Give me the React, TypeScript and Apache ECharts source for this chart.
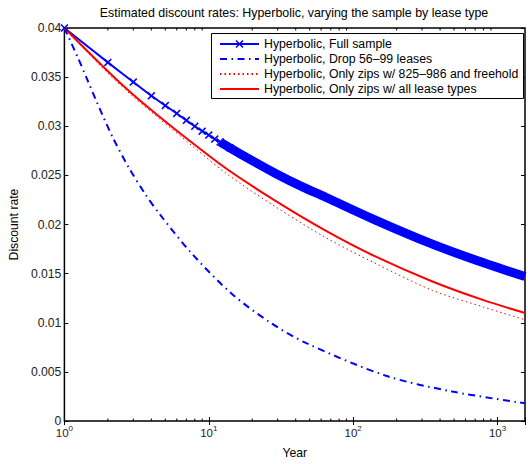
import React, { useEffect, useRef } from "react";
import * as echarts from "echarts";

const titleText = "Estimated discount rates: Hyperbolic, varying the sample by lease type";
const xAxisName = "Year";
const yAxisName = "Discount rate";
const seriesNames = [
  "Hyperbolic, Full sample",
  "Hyperbolic, Drop 56\u201399 leases",
  "Hyperbolic, Only zips w/ 825\u2013986 and freehold",
  "Hyperbolic, Only zips w/ all lease types",
];

// Full sample (markers at each year)
const fullYears = [1, 2, 3, 4, 5, 6, 7, 8, 9, 10, 11, 12, 14, 20, 29, 45, 64, 140, 354, 800, 1550];
const fullRates = [0.04, 0.0365, 0.0345, 0.0331, 0.0321, 0.0313, 0.0306, 0.03, 0.0295, 0.0291, 0.0287, 0.0284, 0.0278, 0.0265, 0.0252, 0.0238, 0.0228, 0.0205, 0.018, 0.0161, 0.0147];
// Drop 56-99 leases
const dropYears = [1, 1.23, 1.445, 1.65, 2.14, 2.79, 3.63, 4.6, 7.57, 14.3, 26.8, 47.8, 169, 485, 1550];
const dropRates = [0.04, 0.0371, 0.0347, 0.0327, 0.029, 0.0258, 0.0231, 0.021, 0.0171, 0.013, 0.01, 0.0079, 0.0046, 0.003, 0.0018];
// Only zips w/ 825-986 and freehold
const freeYears = [1, 2, 3, 4.36, 7.4, 13.2, 29, 64, 140, 354, 800, 1550];
const freeRates = [0.04, 0.0354, 0.033, 0.031, 0.0282, 0.0252, 0.0218, 0.0187, 0.0161, 0.0133, 0.0116, 0.0103];
// Only zips w/ all lease types
const allYears = [1, 2, 3, 4.36, 7.4, 13.2, 29, 64, 140, 354, 800, 1550];
const allRates = [0.04, 0.0356, 0.0332, 0.0312, 0.0285, 0.0257, 0.0224, 0.0194, 0.0168, 0.0142, 0.0123, 0.011];

const markerLastYear = 14;
const bandFirstYear = 12;
const minorTickYears = [2, 3, 4, 5, 6, 7, 8, 9, 20, 30, 40, 50, 60, 70, 80, 90, 200, 300, 400, 500, 600, 700, 800, 900];
const X_MIN = 1;
const X_MAX = 1550;
const Y_MIN = 0;
const Y_MAX = 0.04;
const Y_STEP = 0.005;

const pairs = (xs: number[], ys: number[]) => xs.map((x, i) => [x, ys[i]]);

const FONT = "'Liberation Sans', Arial, Helvetica, sans-serif";
const BLUE = "#0000ff";
const RED = "#ff0000";
const X_MARK =
  "path://M0,1.4L1.4,0L5,3.6L8.6,0L10,1.4L6.4,5L10,8.6L8.6,10L5,6.4L1.4,10L0,8.6L3.6,5Z";

export default function App() {
  const ref = useRef<HTMLDivElement>(null);
  useEffect(() => {
    if (!ref.current) return;
    const chart = echarts.init(ref.current, null, { renderer: "svg" });
    const fullData = pairs(fullYears, fullRates);
    const option: any = {
      animation: false,
      textStyle: { fontFamily: FONT },
      title: {
        text: titleText,
        left: 294,
        top: 7,
        padding: 0,
        textAlign: "center",
        textStyle: { fontSize: 12.4, fontWeight: "normal", color: "#000", fontFamily: FONT },
      },
      grid: {
        left: 62,
        top: 28,
        right: 1,
        bottom: 38,
        show: true,
        borderColor: "#000",
        borderWidth: 1.5,
        backgroundColor: "transparent",
      },
      legend: {
        data: seriesNames.map((n, i) =>
          i === 0 ? { name: n } : { name: n, itemStyle: { opacity: 0 } }
        ),
        orient: "vertical",
        left: 212,
        top: 34,
        padding: [4, 0, 0, 7],
        itemWidth: 39,
        itemHeight: 10,
        itemGap: 3,
        selectedMode: false,
        z: 4,
        textStyle: { fontSize: 12.3, lineHeight: 12, color: "#000", fontFamily: FONT },
      },
      graphic: [
        {
          type: "rect",
          z: 3,
          shape: { x: 211.5, y: 33.5, width: 312, height: 65 },
          style: { fill: "#fff", stroke: "#000", lineWidth: 1 },
        },
      ],
      xAxis: [
        {
          type: "log",
          logBase: 10,
          min: X_MIN,
          max: X_MAX,
          name: xAxisName,
          nameLocation: "middle",
          nameGap: 26,
          nameTextStyle: { fontSize: 12.2, color: "#000", fontFamily: FONT },
          axisLine: { show: false },
          axisTick: { inside: true, length: 4, lineStyle: { color: "#000" } },
          splitLine: { show: false },
          axisLabel: {
            margin: 3,
            color: "#222",
            formatter: (v: number) => {
              const e = Math.round(Math.log10(v));
              if (Math.abs(Math.pow(10, e) - v) > 1e-6 * v) return "";
              return "{b|10}{e|" + e + "}";
            },
            rich: {
              b: { fontSize: 11.5, lineHeight: 15, verticalAlign: "bottom", color: "#222", fontFamily: FONT },
              e: { fontSize: 8, lineHeight: 15, verticalAlign: "top", color: "#222", fontFamily: FONT },
            },
          },
        },
        {
          type: "log",
          logBase: 10,
          min: X_MIN,
          max: X_MAX,
          position: "top",
          axisLine: { show: false },
          axisTick: { inside: true, length: 4, lineStyle: { color: "#000" } },
          axisLabel: { show: false },
          splitLine: { show: false },
        },
      ],
      yAxis: [
        {
          type: "value",
          min: Y_MIN,
          max: Y_MAX,
          interval: Y_STEP,
          name: yAxisName,
          nameLocation: "middle",
          nameGap: 40,
          nameTextStyle: { fontSize: 12.2, color: "#000", fontFamily: FONT },
          axisLine: { show: false },
          axisTick: { inside: true, length: 4, lineStyle: { color: "#000" } },
          axisLabel: { margin: 3, fontSize: 12.2, color: "#222", fontFamily: FONT },
          splitLine: { show: false },
        },
        {
          type: "value",
          min: Y_MIN,
          max: Y_MAX,
          interval: Y_STEP,
          position: "right",
          axisLine: { show: false },
          axisTick: { inside: true, length: 4, lineStyle: { color: "#000" } },
          axisLabel: { show: false },
          splitLine: { show: false },
        },
      ],
      series: [
        {
          name: "band",
          type: "line",
          data: fullData.filter((p) => p[0] >= bandFirstYear),
          symbol: "none",
          smooth: 0.3,
          silent: true,
          lineStyle: { color: BLUE, width: 9 },
          z: 2,
        },
        {
          name: seriesNames[0],
          type: "line",
          data: fullData.map((p) => (p[0] <= markerLastYear ? p : { value: p, symbol: "none" })),
          symbol: X_MARK,
          symbolSize: 8,
          smooth: 0.3,
          itemStyle: { color: BLUE },
          lineStyle: { color: BLUE, width: 2 },
          z: 2,
        },
        {
          name: seriesNames[1],
          type: "line",
          data: pairs(dropYears, dropRates),
          symbol: "none",
          smooth: 0.3,
          itemStyle: { color: BLUE },
          lineStyle: { color: BLUE, width: 2, type: [7, 4.5, 1.5, 4.5] },
          z: 2,
        },
        {
          name: seriesNames[2],
          type: "line",
          data: pairs(freeYears, freeRates),
          symbol: "none",
          smooth: 0.3,
          itemStyle: { color: RED },
          lineStyle: { color: RED, width: 1, type: [1.5, 3] },
          z: 2,
        },
        {
          name: seriesNames[3],
          type: "line",
          data: pairs(allYears, allRates),
          symbol: "none",
          smooth: 0.3,
          itemStyle: { color: RED },
          lineStyle: { color: RED, width: 2 },
          z: 2,
        },
        {
          name: "minorTicks",
          type: "custom",
          data: minorTickYears.map((v) => [v, 0]),
          silent: true,
          clip: false,
          z: 5,
          renderItem: (params: any, api: any) => {
            const x = api.value(0);
            const b = api.coord([x, Y_MIN]);
            const t = api.coord([x, Y_MAX]);
            return {
              type: "group",
              children: [
                { type: "line", shape: { x1: b[0], y1: b[1], x2: b[0], y2: b[1] - 2.5 }, style: { stroke: "#000", lineWidth: 1 } },
                { type: "line", shape: { x1: t[0], y1: t[1], x2: t[0], y2: t[1] + 2.5 }, style: { stroke: "#000", lineWidth: 1 } },
              ],
            };
          },
        },
      ],
    };
    chart.setOption(option);
    return () => chart.dispose();
  }, []);
  return (
    <div
      ref={ref}
      style={{ position: "absolute", left: 0, top: 0, width: 528, height: 464, background: "#fff" }}
    />
  );
}
